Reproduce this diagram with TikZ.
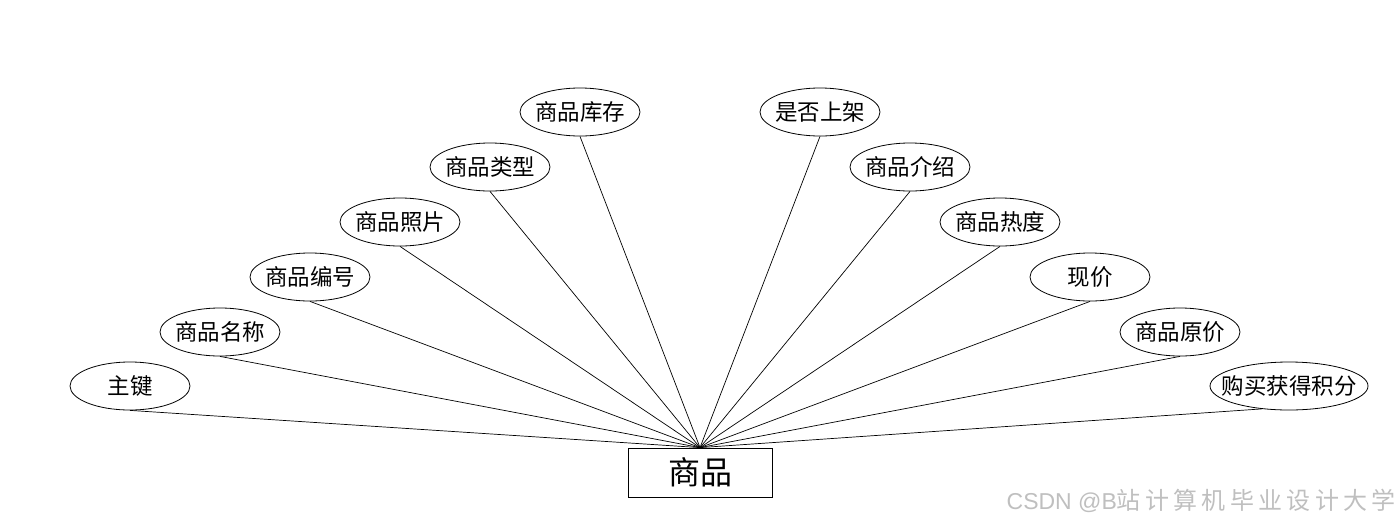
\documentclass[tikz,border=0pt]{standalone}
\usepackage{fontspec}
\newfontfamily\cjk{Noto Sans CJK SC}
\newfontfamily\wmlat{Liberation Sans}
\usetikzlibrary{shapes.geometric}
\begin{document}
\begin{tikzpicture}[x=1pt,y=-1pt,
  attr/.style={draw,ellipse,line width=0.8pt,minimum width=120pt,minimum height=48pt,inner xsep=-25pt,inner ysep=0pt,font=\cjk\fontsize{22.5}{24}\selectfont},
  ent/.style={draw,rectangle,line width=0.8pt,minimum width=144pt,minimum height=49pt,inner sep=0pt,font=\cjk\fontsize{32}{34}\selectfont},
  link/.style={line width=0.7pt}]
\useasboundingbox (0,0) rectangle (1400,528);
\node[ent] (e) at (700,472.5) {商品};
\node[attr] (a1) at (130,386) {主键};
\node[attr] (a2) at (220,332) {商品名称};
\node[attr] (a3) at (310,277) {商品编号};
\node[attr] (a4) at (400,222) {商品照片};
\node[attr] (a5) at (490,167) {商品类型};
\node[attr] (a6) at (580,112) {商品库存};
\node[attr] (b1) at (820,112) {是否上架};
\node[attr] (b2) at (910,167) {商品介绍};
\node[attr] (b3) at (1000,222) {商品热度};
\node[attr] (b4) at (1090,277) {现价};
\node[attr] (b5) at (1180,332) {商品原价};
\node[attr,minimum width=158pt] (b6) at (1289,386) {购买获得积分};
\foreach \n in {a1,a2,a3,a4,a5,a6,b1,b2,b3,b4,b5}
  \draw[link] (\n.south) -- (e.north);
\draw[link] (b6.220) -- (e.north);
\node[anchor=east,text=black!25,inner sep=0pt] (wm) at (1396,501) {{\wmlat\fontsize{23}{26}\selectfont CSDN @B}{\cjk\fontsize{24}{26}\selectfont\addfontfeature{LetterSpace=18}站计算机毕业设计大学}};
\end{tikzpicture}
\end{document}
